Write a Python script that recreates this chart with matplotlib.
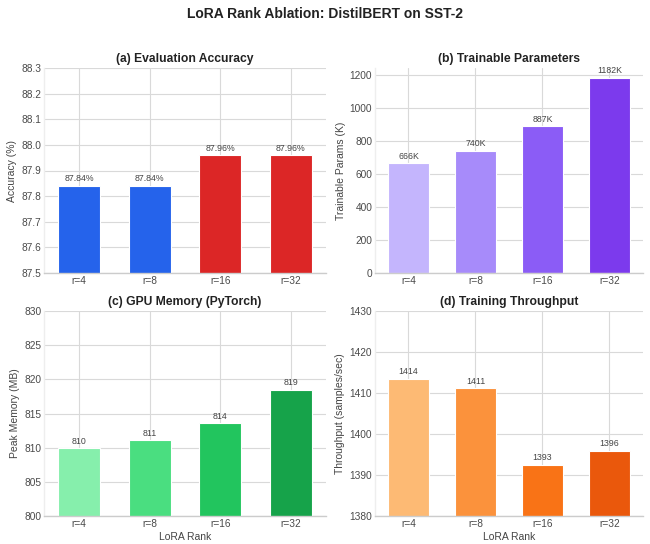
import matplotlib
matplotlib.use("Agg")
import matplotlib.pyplot as plt

plt.style.use("seaborn-v0_8-whitegrid")
plt.rcParams['font.family'] = ['Liberation Sans', 'DejaVu Sans']

ranks = ["r=4", "r=8", "r=16", "r=32"]
accuracy = [87.84, 87.84, 87.96, 87.96]
acc_labels = ["87.84%", "87.84%", "87.96%", "87.96%"]
params_k = [666, 740, 887, 1182]
params_labels = ["666K", "740K", "887K", "1182K"]
memory_mb = [809.9, 811.1, 813.6, 818.5]
memory_labels = ["810", "811", "814", "819"]
throughput = [1413.5, 1411.1, 1392.5, 1395.9]
throughput_labels = ["1414", "1411", "1393", "1396"]

acc_colors = ["#2563eb", "#2563eb", "#dc2626", "#dc2626"]
param_colors = ["#c4b5fd", "#a78bfa", "#8b5cf6", "#7c3aed"]
mem_colors = ["#86efac", "#4ade80", "#22c55e", "#16a34a"]
thr_colors = ["#fdba74", "#fb923c", "#f97316", "#ea580c"]

W, H = 650, 544
fig = plt.figure(figsize=(W / 100, H / 100), dpi=100)

def ax_px(l, t, r, b):
    return fig.add_axes([l / W, 1 - b / H, (r - l) / W, (b - t) / H])

fig.suptitle("LoRA Rank Ablation: DistilBERT on SST-2", fontsize=10, fontweight="bold",
             y=1 - 14 / H, va="center", color="#222222")

panels = [
    (ax_px(44, 68, 326, 273), accuracy, acc_labels, acc_colors, "(a) Evaluation Accuracy",
     "Accuracy (%)", (87.5, 88.3), [87.5 + 0.1 * i for i in range(9)], "{:.1f}", False),
    (ax_px(375, 68, 643, 273), params_k, params_labels, param_colors, "(b) Trainable Parameters",
     "Trainable Params (K)", (0, 1241), list(range(0, 1201, 200)), "{:.0f}", False),
    (ax_px(44, 311, 326, 516), memory_mb, memory_labels, mem_colors, "(c) GPU Memory (PyTorch)",
     "Peak Memory (MB)", (800, 830), list(range(800, 831, 5)), "{:.0f}", True),
    (ax_px(375, 311, 643, 516), throughput, throughput_labels, thr_colors, "(d) Training Throughput",
     "Throughput (samples/sec)", (1380, 1430), list(range(1380, 1431, 10)), "{:.0f}", True),
]

for ax, vals, labs, cols, title, ylabel, ylim, yt, fmt, show_x in panels:
    x = list(range(len(ranks)))
    ax.bar(x, vals, width=0.6, color=cols, edgecolor="white", linewidth=0.8, zorder=2)
    ax.set_ylim(*ylim)
    ax.set_yticks(yt)
    ax.set_yticklabels([fmt.format(v) for v in yt])
    ax.set_xticks(x)
    ax.set_xticklabels(ranks)
    ax.set_xlim(-0.5, 3.5)
    ax.set_title(title, fontsize=8.7, fontweight="bold", color="#222222", pad=4)
    ax.set_ylabel(ylabel, fontsize=7.5, color="#444444", labelpad=3)
    if show_x:
        ax.set_xlabel("LoRA Rank", fontsize=7.5, color="#444444", labelpad=2)
    ax.tick_params(labelsize=7.3, colors="#4a4a4a", pad=2)
    ax.grid(True, color="#d9d9d9", linewidth=0.8, zorder=0)
    for s in ax.spines.values():
        s.set_visible(False)
    ax.spines["bottom"].set_visible(True)
    ax.spines["bottom"].set_color("#cccccc")
    ax.spines["left"].set_visible(True)
    ax.spines["left"].set_color("#eeeeee")
    rng = ylim[1] - ylim[0]
    for xi, v, lab in zip(x, vals, labs):
        ax.text(xi, v + rng * 0.012, lab, ha="center", va="bottom", fontsize=6.3, color="#444444")

fig.savefig("out.png", dpi=100)
